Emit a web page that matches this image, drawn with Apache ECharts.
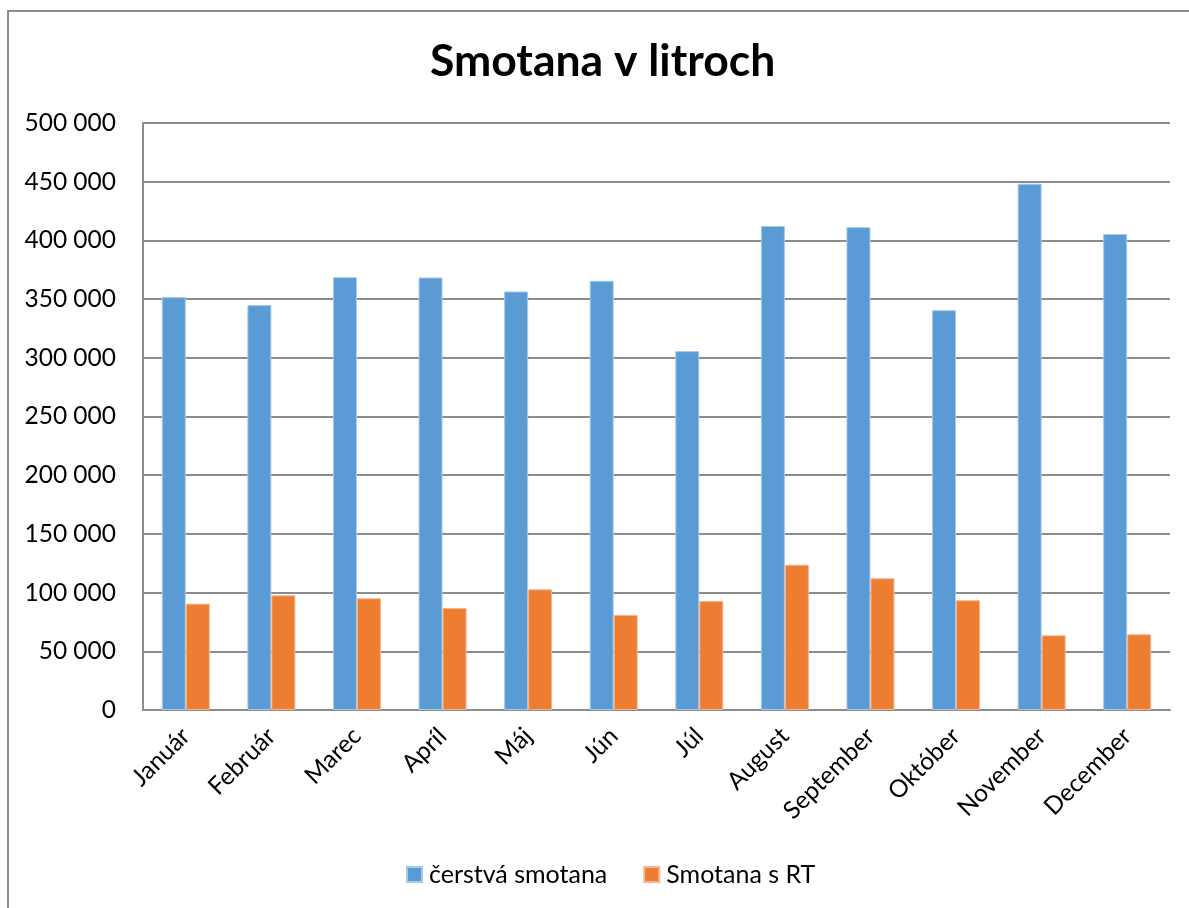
<!DOCTYPE html>
<html>
<head>
<meta charset="utf-8">
<script src="https://cdn.jsdelivr.net/npm/echarts@6/dist/echarts.min.js"></script>
<style>
    html, body { margin: 0; padding: 0; background: #fff; }
    #chart { width: 1189px; height: 908px; }
</style>
</head>
<body>
<div id="chart"></div>
<script>
// mesiace
var months = ['Január', 'Február', 'Marec', 'Apríl', 'Máj', 'Jún', 'Júl', 'August', 'September', 'Október', 'November', 'December'];
// čerstvá smotana (litre)
var freshCream = [351700, 344900, 368700, 368400, 356500, 365600, 305700, 412200, 411300, 340600, 448300, 405400];
// smotana s RT (litre)
var rtCream = [90600, 97700, 95200, 86900, 102800, 81000, 92900, 123800, 112200, 93500, 63600, 64500];
var seriesNames = ['čerstvá smotana', 'Smotana s RT'];

var font = 'Lato, "Open Sans", sans-serif';

var myChart = echarts.init(document.getElementById('chart'));

var option = {
    animation: false,
    backgroundColor: '#fff',
    title: {
        text: 'Smotana v litroch',
        left: 425,
        top: 34,
        textStyle: { fontFamily: font, fontWeight: 'bold', fontSize: 44.5, color: '#000' }
    },
    // ram okolo grafu
    graphic: [{
        type: 'rect',
        shape: { x: 8, y: 11, width: 1200, height: 920 },
        style: { fill: 'none', stroke: '#8c8c8c', lineWidth: 2 },
        silent: true
    }],
    legend: {
        bottom: 16,
        left: 401,
        itemWidth: 15,
        itemHeight: 15,
        itemGap: 36,
        icon: 'rect',
        textStyle: { fontFamily: font, fontSize: 25, color: '#000', padding: [0, 0, 0, 2] },
        data: seriesNames
    },
    grid: {
        left: 143,
        right: 19,
        top: 123,
        bottom: 198,
        containLabel: false
    },
    xAxis: {
        type: 'category',
        data: months,
        axisLine: { lineStyle: { color: '#8c8c8c', width: 2 } },
        axisTick: { show: false },
        axisLabel: {
            rotate: 45,
            margin: 22,
            fontFamily: font,
            fontSize: 24.5,
            color: '#000',
            interval: 0
        }
    },
    yAxis: {
        type: 'value',
        min: 0,
        max: 500000,
        interval: 50000,
        axisLine: { show: true, lineStyle: { color: '#8c8c8c', width: 2 } },
        axisTick: { show: false },
        splitLine: { lineStyle: { color: '#8c8c8c', width: 2 } },
        axisLabel: {
            margin: 27,
            fontFamily: font,
            fontSize: 24.5,
            color: '#000',
            formatter: function(v) {
                // medzera ako oddelovac tisicov
                return String(v).replace(/\B(?=(\d{3})+(?!\d))/g, ' ');
            }
        }
    },
    series: [{
        name: seriesNames[0],
        type: 'bar',
        data: freshCream,
        barWidth: 24,
        barGap: '0%',
        itemStyle: { color: '#5b9bd5', borderColor: '#a9c9ea', borderWidth: 1 }
    }, {
        name: seriesNames[1],
        type: 'bar',
        data: rtCream,
        barWidth: 24,
        barGap: '0%',
        itemStyle: { color: '#ed7d31', borderColor: '#f5b591', borderWidth: 1 }
    }]
};

myChart.setOption(option);
</script>
</body>
</html>
